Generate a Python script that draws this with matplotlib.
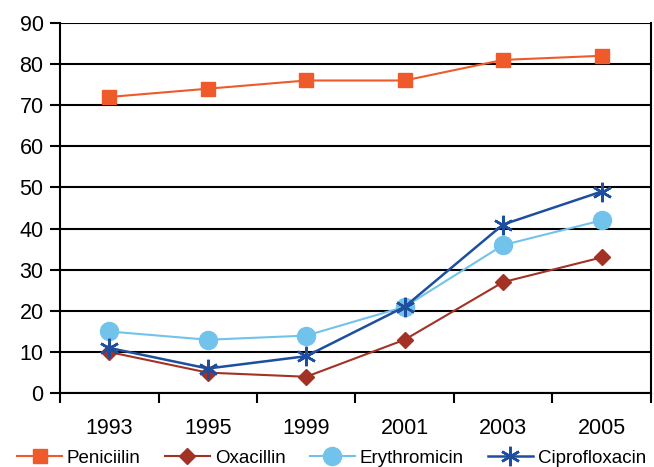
import numpy as np
import matplotlib.pyplot as plt

plt.rcParams['font.family'] = ['Liberation Sans', 'DejaVu Sans']

# Data
years = ['1993', '1995', '1999', '2001', '2003', '2005']
penicilin = [72, 74, 76, 76, 81, 82]
oxacillin = [10, 5, 4, 13, 27, 33]
erythromicin = [15, 13, 14, 21, 36, 42]
ciprofloxacin = [11, 6, 9, 21, 41, 49]

x = np.arange(len(years))

fig = plt.figure(figsize=(6.54, 4.67), dpi=100)
ax = fig.add_axes([0.092, 0.158, 0.903, 0.793])

ax.plot(x, penicilin, color='#EE5A2A', marker='s', markersize=10.5, linewidth=1.5, label='Peniciilin')
ax.plot(x, oxacillin, color='#A33224', marker='D', markersize=8.5, linewidth=1.5, label='Oxacillin')
ax.plot(x, erythromicin, color='#72C3EC', marker='o', markersize=13, linewidth=1.5, label='Erythromicin')
ax.plot(x, ciprofloxacin, color='#1E4E9E', marker=(6, 2, 0), markersize=14, markeredgewidth=1.8,
        linewidth=1.8, label='Ciprofloxacin')

ax.set_xlim(-0.5, len(years) - 0.5)
ax.set_ylim(0, 90)
ax.set_yticks(np.arange(0, 91, 10))
ax.yaxis.grid(True, color='black', linewidth=1.5)
ax.set_axisbelow(True)

# category labels between boundary ticks
ax.set_xticks(np.arange(-0.5, len(years), 1))
ax.set_xticklabels([])
ax.set_xticks(x, minor=True)
ax.set_xticklabels(years, minor=True)
ax.tick_params(axis='x', which='minor', length=0, labelsize=15.5, pad=18)
ax.tick_params(axis='x', which='major', length=7, width=1.5)
ax.tick_params(axis='y', length=7, width=1.5, labelsize=15.5, pad=5)

for s in ['left', 'bottom', 'right']:
    ax.spines[s].set_linewidth(1.5)
ax.spines['top'].set_visible(False)

fig.legend(*ax.get_legend_handles_labels(), loc='center left', bbox_to_anchor=(0.026, 0.019),
           ncol=4, frameon=False, fontsize=13.5, handlelength=2.4, columnspacing=1.3,
           handletextpad=0.25, borderpad=0, borderaxespad=0)

fig.savefig('out.png', dpi=100)
